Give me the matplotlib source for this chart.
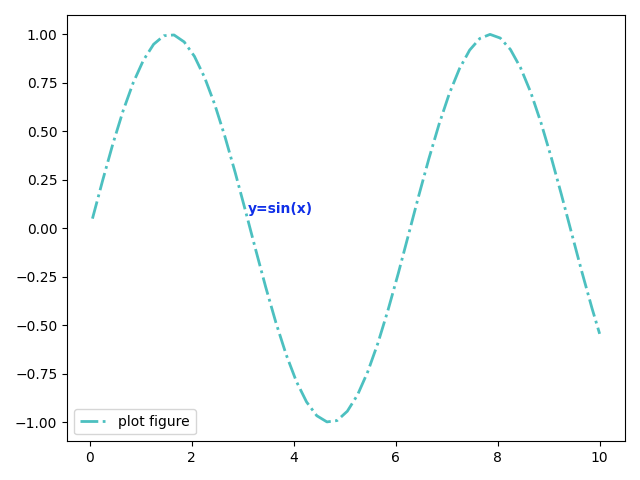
import matplotlib
matplotlib.use('Agg')
import matplotlib.pyplot as plt

# points
x = [0.05, 0.25, 0.45, 0.65, 0.85, 1.05, 1.25, 1.45, 1.65, 1.85,
     2.05, 2.25, 2.45, 2.65, 2.85, 3.05, 3.25, 3.45, 3.65, 3.85,
     4.05, 4.25, 4.45, 4.65, 4.85, 5.05, 5.25, 5.45, 5.65, 5.85,
     6.05, 6.25, 6.45, 6.65, 6.85, 7.05, 7.25, 7.45, 7.65, 7.85,
     8.05, 8.25, 8.45, 8.65, 8.85, 9.05, 9.25, 9.45, 9.65, 9.85, 10.0]
y = [0.050, 0.247, 0.435, 0.605, 0.751, 0.867, 0.949, 0.993, 0.997, 0.961,
     0.887, 0.778, 0.638, 0.472, 0.288, 0.092, -0.108, -0.304, -0.487, -0.651,
     -0.789, -0.895, -0.966, -0.998, -0.991, -0.943, -0.859, -0.740, -0.592, -0.420,
     -0.232, -0.033, 0.167, 0.359, 0.537, 0.694, 0.823, 0.919, 0.979, 1.000,
     0.981, 0.922, 0.827, 0.700, 0.544, 0.366, 0.174, -0.025, -0.223, -0.412, -0.544]

plt.figure(figsize=(6.4, 4.8), dpi=100)
plt.plot(x, y, color='#4cc0c0', linestyle='-.', linewidth=2, label='plot figure')
plt.text(3.1, 0.08, 'y=sin(x)', color='#1030e8', fontweight='bold')
plt.legend(loc='lower left')
plt.tight_layout()
plt.savefig('out.png')
